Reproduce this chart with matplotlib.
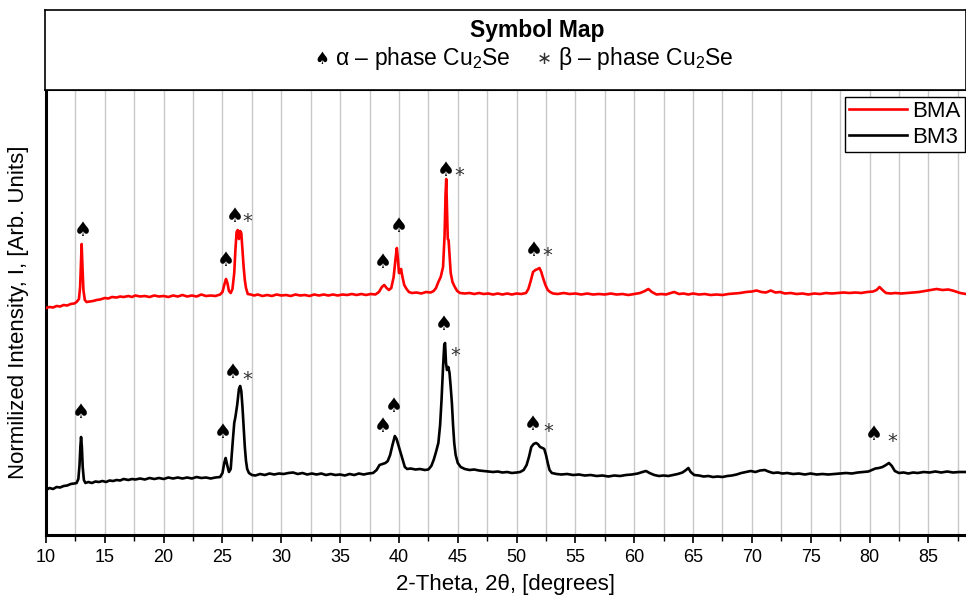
import matplotlib
matplotlib.use("Agg")
import matplotlib.pyplot as plt
from matplotlib.ticker import MultipleLocator, NullLocator
from matplotlib.offsetbox import TextArea, HPacker, AnchoredOffsetbox

plt.rcParams['font.family'] = ['Liberation Sans', 'DejaVu Sans']
plt.rcParams['mathtext.fontset'] = 'custom'
plt.rcParams['mathtext.rm'] = 'Liberation Sans'

# ---------------- data ----------------
bma_x = [10.0, 10.3, 10.6, 10.9, 11.2, 11.5, 11.8, 12.1, 12.4, 12.6, 12.8, 12.9, 12.97, 13.03, 13.1, 13.18, 13.3, 13.45,
         13.7, 14.0, 14.3, 14.6, 15.0, 15.3, 15.6, 16.0, 16.3, 16.6, 17.0, 17.3, 17.6, 18.0, 18.4, 18.8, 19.2, 19.6,
         20.0, 20.4, 20.8, 21.2, 21.6, 22.0, 22.4, 22.8, 23.2, 23.6, 24.0, 24.4, 24.8, 25.0, 25.15, 25.3, 25.42, 25.55,
         25.7, 25.85, 26.0, 26.1, 26.2, 26.3, 26.4, 26.5, 26.6, 26.7, 26.8, 26.9, 27.0, 27.15, 27.4, 27.7, 28.0, 28.4,
         28.8, 29.2, 29.6, 30.0, 30.4, 30.8, 31.2, 31.6, 32.0, 32.4, 32.8, 33.2, 33.6, 34.0, 34.4, 34.8, 35.2, 35.6,
         36.0, 36.4, 36.8, 37.2, 37.6, 38.0, 38.3, 38.55, 38.75, 38.95, 39.15, 39.35, 39.55, 39.7, 39.82, 39.92, 40.0,
         40.08, 40.18, 40.3, 40.45, 40.65, 40.85, 41.1, 41.5, 41.9, 42.3, 42.7, 42.95, 43.15, 43.35, 43.55, 43.75,
         43.88, 43.96, 44.02, 44.08, 44.15, 44.22, 44.3, 44.4, 44.55, 44.75, 44.95, 45.2, 45.6, 46.0, 46.4, 46.8,
         47.2, 47.6, 48.0, 48.4, 48.8, 49.2, 49.6, 50.0, 50.4, 50.8, 51.0, 51.2, 51.4, 51.6, 51.8, 51.95, 52.1, 52.25,
         52.45, 52.65, 52.85, 53.1, 53.5, 54.0, 54.5, 55.0, 55.5, 56.0, 56.5, 57.0, 57.5, 58.0, 58.5, 59.0, 59.5,
         60.0, 60.5, 60.9, 61.2, 61.5, 61.9, 62.3, 62.7, 63.1, 63.4, 63.8, 64.2, 64.6, 65.0, 65.5, 66.0, 66.5, 67.0,
         67.5, 68.0, 68.5, 69.0, 69.5, 70.0, 70.4, 70.8, 71.2, 71.6, 72.0, 72.4, 72.8, 73.3, 73.8, 74.3, 74.8, 75.3,
         75.8, 76.3, 76.8, 77.3, 77.8, 78.3, 78.8, 79.3, 79.8, 80.3, 80.6, 80.85, 81.1, 81.4, 81.8, 82.2, 82.7, 83.2,
         83.7, 84.2, 84.7, 85.2, 85.7, 86.2, 86.7, 87.2, 87.7, 88.2]
bma_y = [227, 228, 227.5, 229, 228.5, 230, 229.5, 231, 231.5, 233, 236, 248, 270, 291, 268, 245, 235, 233,
         233.5, 234, 235, 235.5, 237, 236.5, 238, 237.5, 238.5, 238, 239, 238, 239.5, 238.5, 239, 238, 239.5, 238.5,
         239, 238, 239.5, 238.5, 240, 238.5, 239.5, 238.5, 240.5, 239, 239.5, 239, 240.5, 243, 250, 256, 252, 244,
         242, 246, 262, 285, 303, 305, 296, 304, 302, 285, 268, 255, 247, 241, 240.5, 239.5, 240.5, 239,
         240, 239, 240.5, 239.5, 240, 239, 240.5, 239.5, 240, 239, 240.5, 239.5, 240.5, 239.5, 240.5, 239.5, 240.5, 240,
         241, 240, 241, 240, 241, 240.5, 243, 248, 250, 247, 245, 247, 258, 275, 287, 275, 262,
         262, 266, 258, 250, 246, 243, 242, 242.5, 241.5, 243, 242.5, 244, 247, 253, 258, 268,
         300, 340, 356, 330, 296, 295, 280, 262, 253, 248, 244, 242, 241.5, 242, 241, 242,
         241, 241.5, 240.5, 241.5, 240.5, 241.5, 240.5, 241.5, 241, 242, 246, 254, 263, 265, 266, 267, 263, 257,
         250, 245, 243, 241.5, 241, 242, 241, 241.5, 240.5, 241.5, 240.5, 241, 240.5, 241.5, 240.5, 241, 240,
         241, 242, 244, 246, 243, 240.5, 241, 240.5, 242, 243, 241, 241.5, 240.5, 241.5, 240.5, 241, 240, 240.5,
         240, 241, 241.5, 242, 243, 243.5, 244.5, 243, 242.5, 244.5, 242.5, 243, 241.5, 242, 241, 241.5, 240.5, 241.5,
         241, 242, 241.5, 242, 242.5, 242, 242.5, 242, 243, 243.5, 245, 248, 245, 242, 241.5, 242, 241.5, 242,
         242.5, 243, 244, 245, 246, 245, 245.5, 244, 242, 241]

bm3_x = [10.0, 10.3, 10.6, 10.9, 11.2, 11.5, 11.8, 12.1, 12.4, 12.6, 12.75, 12.85, 12.92, 12.98, 13.05, 13.12, 13.22,
         13.35, 13.6, 13.9, 14.2, 14.5, 14.8, 15.1, 15.4, 15.7, 16.0, 16.3, 16.6, 17.0, 17.3, 17.6, 18.0, 18.4, 18.8,
         19.2, 19.6, 20.0, 20.4, 20.8, 21.2, 21.6, 22.0, 22.4, 22.8, 23.2, 23.6, 24.0, 24.4, 24.8, 25.0, 25.15, 25.27,
         25.4, 25.55, 25.7, 25.85, 26.0, 26.1, 26.25, 26.4, 26.5, 26.6, 26.7, 26.8, 26.9, 27.0, 27.1, 27.25, 27.5,
         27.8, 28.2, 28.6, 29.0, 29.4, 29.8, 30.2, 30.6, 31.0, 31.4, 31.8, 32.2, 32.6, 33.0, 33.4, 33.8, 34.2, 34.6,
         35.0, 35.4, 35.8, 36.2, 36.6, 37.0, 37.4, 37.8, 38.1, 38.35, 38.6, 38.85, 39.05, 39.25, 39.45, 39.65, 39.8,
         39.95, 40.1, 40.3, 40.5, 40.7, 41.0, 41.4, 41.8, 42.2, 42.5, 42.75, 42.95, 43.15, 43.35, 43.5, 43.62, 43.75,
         43.85, 43.92, 44.0, 44.08, 44.2, 44.3, 44.4, 44.5, 44.6, 44.7, 44.82, 45.0, 45.25, 45.6, 46.0, 46.4, 46.8,
         47.2, 47.6, 48.0, 48.4, 48.8, 49.2, 49.6, 50.0, 50.3, 50.6, 50.85, 51.05, 51.25, 51.45, 51.65, 51.8, 52.0,
         52.2, 52.35, 52.5, 52.65, 52.8, 53.0, 53.4, 53.8, 54.3, 54.8, 55.3, 55.8, 56.3, 56.8, 57.3, 57.8, 58.3,
         58.8, 59.3, 59.8, 60.3, 60.7, 61.0, 61.3, 61.7, 62.1, 62.5, 62.9, 63.3, 63.7, 64.1, 64.4, 64.6, 64.8, 65.1,
         65.5, 65.9, 66.3, 66.7, 67.1, 67.5, 67.9, 68.3, 68.7, 69.1, 69.5, 69.9, 70.3, 70.7, 71.1, 71.4, 71.8, 72.2,
         72.6, 73.0, 73.5, 74.0, 74.5, 75.0, 75.5, 76.0, 76.5, 77.0, 77.5, 78.0, 78.5, 79.0, 79.5, 79.9, 80.2, 80.5,
         80.8, 81.1, 81.4, 81.65, 81.9, 82.15, 82.5, 82.9, 83.3, 83.7, 84.1, 84.6, 85.1, 85.6, 86.1, 86.6, 87.1,
         87.6, 88.2]
bm3_y = [45, 47, 46, 48, 47.5, 49, 49.5, 51, 51.5, 52, 56, 70, 88, 98, 88, 68, 55,
         52, 53, 52, 53.5, 53, 54, 53, 54.5, 54, 55, 54.5, 56, 55, 56, 55.5, 56.5, 55.5, 57,
         56, 57, 56, 57.5, 56.5, 57.5, 56.5, 57.5, 56.5, 58, 57, 57.5, 56.5, 57.5, 58, 62, 72, 77,
         70, 63, 66, 90, 112, 118, 130, 146, 149, 144, 128, 108, 88, 74, 66, 62, 60,
         59.5, 61, 60, 61.5, 60.5, 61.5, 61, 62, 62.5, 61, 62, 60.5, 61.5, 60.5, 61.5, 60, 61, 60,
         60.5, 59.5, 61, 60, 61.5, 60.5, 61.5, 62, 65, 70, 71, 72, 74, 80, 90, 99, 96,
         90, 84, 76, 68, 66, 66.5, 65.5, 66, 65, 65.5, 69, 75, 83, 92, 110, 135, 168,
         190, 192, 172, 165, 168, 162, 148, 132, 110, 92, 80, 72, 68, 66, 65, 65.5, 64.5,
         64, 63.5, 63, 63.5, 62.5, 63, 62, 62.5, 63, 65, 70, 78, 88, 91, 92, 91, 88,
         87, 86, 80, 72, 65, 62, 61, 60.5, 61, 60, 60.5, 59.5, 60, 59, 59.5, 58.5, 59.5,
         59, 60, 60.5, 61.5, 63, 64, 62, 60, 59, 59.5, 59, 60, 61, 62.5, 65, 67, 63, 60,
         59.5, 58.5, 59, 58, 58.5, 58, 59, 59.5, 60.5, 62, 63, 64, 63, 64.5, 65, 63.5, 62, 62.5,
         61.5, 62, 61, 61.5, 60.5, 61.5, 60.5, 61, 60.5, 61, 61.5, 62, 61.5, 62.5, 63, 63.5, 65, 66.5,
         67, 68, 70, 72, 69, 64, 62, 62.5, 61.5, 62.5, 62, 63, 62.5, 63.5, 62.5, 63.5, 62.5,
         63, 63]

# peak markers: alpha phase (spade) and beta phase (asterisk)
bma_alpha_x = [13.1, 25.3, 26.05, 38.6, 40.0, 44.0, 51.5]
bma_alpha_y = [305, 275, 318, 273, 309, 364, 285]
bma_beta_x = [27.15, 45.1, 52.6]
bma_beta_y = [317, 363, 284]
bm3_alpha_x = [13.0, 25.0, 25.9, 38.6, 39.6, 43.85, 51.35, 80.4]
bm3_alpha_y = [122, 103, 162, 108, 128, 210, 110, 100]
bm3_beta_x = [27.15, 44.8, 52.7, 81.9]
bm3_beta_y = [160, 183, 107, 98]

series_labels = ["BMA", "BM3"]
x_ticks = [10, 15, 20, 25, 30, 35, 40, 45, 50, 55, 60, 65, 70, 75, 80, 85]

# ---------------- figure ----------------
W, H = 966, 599
fig = plt.figure(figsize=(W / 100, H / 100), dpi=100)

ax_l, ax_r = 46 / W, 1.0
ax_b, ax_t = 1 - 535 / H, 1 - 90 / H
ax = fig.add_axes([ax_l, ax_b, ax_r - ax_l, ax_t - ax_b])

ax.plot(bma_x, bma_y, color='#ff0000', lw=1.9, label=series_labels[0], zorder=3)
ax.plot(bm3_x, bm3_y, color='#000000', lw=1.9, label=series_labels[1], zorder=3)

sym_kw = dict(ha='center', va='center', zorder=4, family=['DejaVu Sans'])
for x, y in zip(bma_alpha_x + bm3_alpha_x, bma_alpha_y + bm3_alpha_y):
    ax.text(x, y, '\u2660', fontsize=14.5, color='black', **sym_kw)
for x, y in zip(bma_beta_x + bm3_beta_x, bma_beta_y + bm3_beta_y):
    ax.text(x, y - 4, '*', fontsize=14, color='#333333', **sym_kw)

ax.set_xlim(10, 88.2)
ax.set_ylim(0, 445)
ax.set_xticks(x_ticks)
ax.xaxis.set_minor_locator(MultipleLocator(2.5))
ax.yaxis.set_major_locator(NullLocator())
ax.grid(True, which='both', axis='x', color='#c8c8c8', lw=1.0, zorder=0)
ax.tick_params(axis='x', which='major', direction='out', length=6, width=1.2, labelsize=13, pad=4)
ax.tick_params(axis='x', which='minor', direction='out', length=4, width=1.0)
for s in ['left', 'bottom']:
    ax.spines[s].set_linewidth(2.2)
ax.spines['right'].set_visible(False)
ax.spines['top'].set_linewidth(1.5)

ax.set_xlabel('2-Theta, 2\u03b8, [degrees]', fontsize=16, labelpad=6)
ax.set_ylabel('Normilized Intensity, I, [Arb. Units]', fontsize=16, labelpad=12)

leg = ax.legend(loc='upper right', bbox_to_anchor=(1.004, 0.995), fontsize=16, frameon=True, fancybox=False,
                edgecolor='black', framealpha=1, borderpad=0.2, handlelength=2.6, handletextpad=0.25,
                labelspacing=0.2, borderaxespad=0.2)
leg.get_frame().set_linewidth(1.0)

# header "Symbol Map" box
hb = 1 - 90 / H
ht = 1 - 10 / H
hax = fig.add_axes([45 / W, hb, 1 - 45 / W, ht - hb])
hax.set_xticks([])
hax.set_yticks([])
for s in hax.spines.values():
    s.set_linewidth(1.2)
hax.set_xlim(0, 1)
hax.set_ylim(0, 1)
hax.text(0.535, 0.75, 'Symbol Map', ha='center', va='center', fontsize=16.5, fontweight='bold')

txt_props = dict(fontsize=16.5, family=['Liberation Sans', 'DejaVu Sans'])
sym_props = dict(fontsize=12, family=['DejaVu Sans'])
parts = [
    TextArea('\u2660', textprops=sym_props),
    TextArea(' \u03b1 \u2013 phase Cu$_\\mathregular{2}$Se     ', textprops=txt_props),
    TextArea('\u2217', textprops=dict(fontsize=13, family=['DejaVu Sans'], color='#333333')),
    TextArea(' \u03b2 \u2013 phase Cu$_\\mathregular{2}$Se', textprops=txt_props),
]
box = HPacker(children=parts, align='baseline', pad=0, sep=0)
anch = AnchoredOffsetbox(loc='center', child=box, bbox_to_anchor=(0.52, 0.40),
                         bbox_transform=hax.transAxes, frameon=False, pad=0, borderpad=0)
hax.add_artist(anch)

fig.savefig('out.png', dpi=100)
